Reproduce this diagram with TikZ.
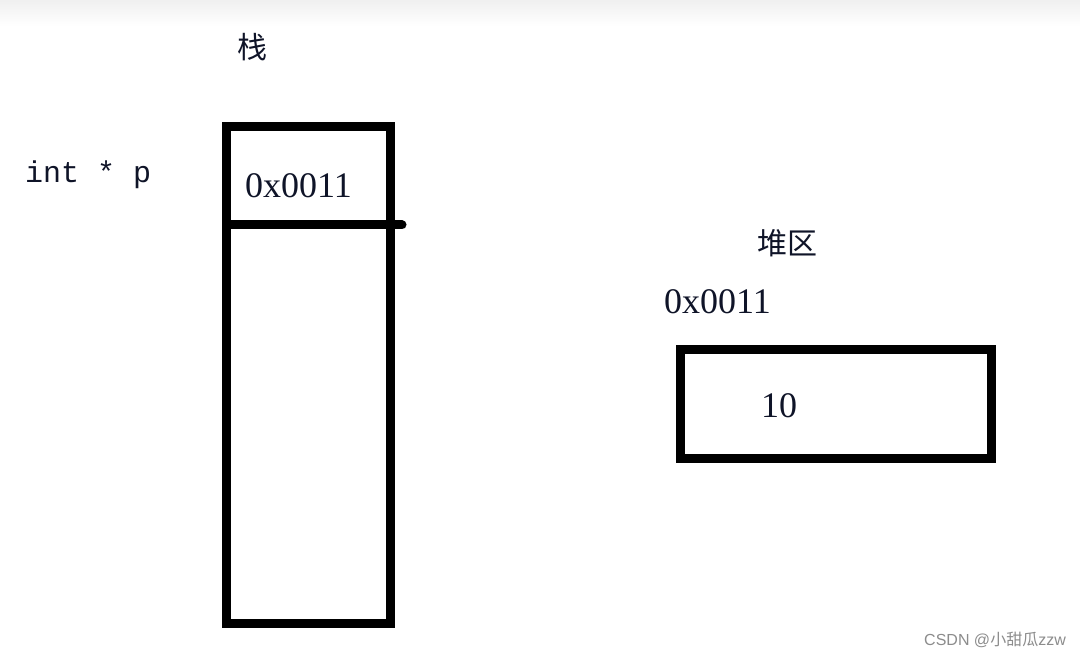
\documentclass[tikz,border=0pt]{standalone}
\usepackage{fontspec}
\setmainfont{Liberation Serif}
\newfontfamily\cjk{Noto Sans CJK SC}
\newfontfamily\monof{Liberation Mono}
\newfontfamily\wmf{Liberation Sans}
\definecolor{ink}{RGB}{15,20,40}
\begin{document}
\begin{tikzpicture}[x=1pt,y=-1pt,
  thickbox/.style={draw=black,line width=9pt},
  lbl/.style={inner sep=0pt,text=ink,font=\fontsize{36}{36}\selectfont},
  cjklbl/.style={inner sep=0pt,text=ink,font=\cjk\fontsize{30}{30}\selectfont},
  monolbl/.style={inner sep=0pt,text=ink,font=\monof\fontsize{30}{30}\selectfont}]
\useasboundingbox (0,0) rectangle (1080,658);
\fill[white] (0,0) rectangle (1080,658);
\shade[top color=black!6,bottom color=white] (0,0) rectangle (1080,26);
% stack
\draw[thickbox] (226.5,127) rectangle (390.5,623.5);
\draw[line width=9pt,line cap=round] (226.5,225) -- (402,225);
\node[cjklbl] (stk) at (252,47) {栈};
\node[monolbl,anchor=base west] (ptr) at (25,183) {int * p};
\node[lbl,anchor=base west] (addr1) at (245,197) {0x0011};
% heap
\node[cjklbl] (heap) at (787,243) {堆区};
\node[lbl,anchor=base west] (addr2) at (664,313) {0x0011};
\draw[thickbox] (680.5,349.5) rectangle (991.5,458);
\node[lbl,anchor=base west] (val) at (761,417) {10};
% watermark
\node[inner sep=0pt,anchor=east,text=black!45,font=\wmf\fontsize{16}{16}\selectfont] (wm) at (1066,640) {CSDN @{\cjk 小甜瓜}zzw};
\end{tikzpicture}
\end{document}
